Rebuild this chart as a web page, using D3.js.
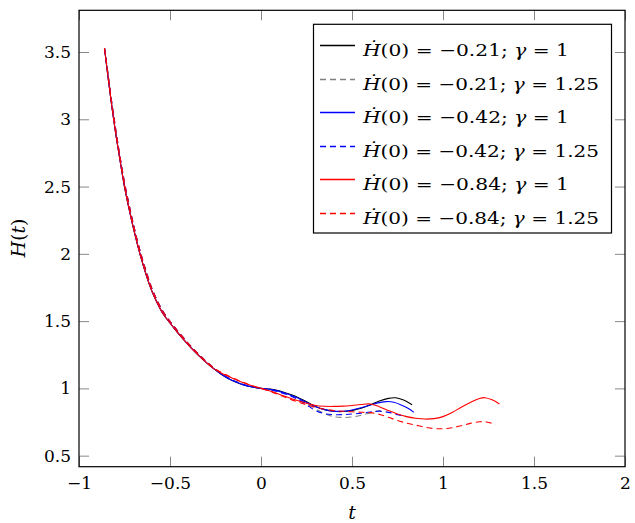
<!DOCTYPE html>
<html>
<head>
<meta charset="utf-8">
<script src="https://cdn.jsdelivr.net/npm/d3@7"></script>
<style>
  body { margin: 0; background: #fff; }
  text { font-family: "DejaVu Serif", serif; }
</style>
</head>
<body>
<script>
// shared steep part
let tEarly = [-0.86, -0.84, -0.82, -0.80, -0.78, -0.75, -0.72, -0.69, -0.66, -0.63, -0.60, -0.57, -0.54, -0.50, -0.46, -0.42, -0.38, -0.34, -0.30, -0.26];
let hEarly = [3.53, 3.31, 3.10, 2.91, 2.74, 2.50, 2.305, 2.13, 1.975, 1.84, 1.725, 1.635, 1.558, 1.486, 1.418, 1.355, 1.296, 1.242, 1.192, 1.147];
let hEarlyDash = [3.53, 3.33, 3.125, 2.94, 2.765, 2.53, 2.335, 2.155, 2.0, 1.865, 1.745, 1.652, 1.575, 1.499, 1.43, 1.366, 1.305, 1.25, 1.199, 1.153];

// tails, one per curve
let tBlack = [-0.22, -0.18, -0.14, -0.10, -0.05, 0, 0.05, 0.10, 0.15, 0.20, 0.25, 0.30, 0.35, 0.40, 0.45, 0.50, 0.55, 0.60, 0.65, 0.70, 0.74, 0.78, 0.83];
let hBlack = [1.107, 1.073, 1.047, 1.027, 1.01, 1.0, 0.995, 0.982, 0.96, 0.935, 0.9, 0.866, 0.842, 0.830, 0.828, 0.835, 0.852, 0.878, 0.906, 0.926, 0.93, 0.915, 0.878];

let tGrayDash = [-0.22, -0.18, -0.14, -0.10, -0.05, 0, 0.05, 0.10, 0.15, 0.20, 0.25, 0.30, 0.35, 0.40, 0.45, 0.50, 0.55, 0.60, 0.65, 0.68];
let hGrayDash = [1.112, 1.078, 1.051, 1.03, 1.012, 1.0, 0.99, 0.975, 0.955, 0.926, 0.888, 0.848, 0.812, 0.79, 0.784, 0.788, 0.80, 0.818, 0.835, 0.842];

let tBlue = [-0.22, -0.18, -0.14, -0.10, -0.05, 0, 0.05, 0.10, 0.15, 0.20, 0.25, 0.30, 0.35, 0.40, 0.45, 0.50, 0.55, 0.60, 0.65, 0.69, 0.73, 0.77, 0.81, 0.84];
let hBlue = [1.107, 1.074, 1.049, 1.028, 1.012, 1.0, 0.993, 0.978, 0.956, 0.93, 0.896, 0.863, 0.842, 0.831, 0.83, 0.84, 0.856, 0.875, 0.894, 0.902, 0.897, 0.877, 0.85, 0.822];

let tBlueDash = [-0.22, -0.18, -0.14, -0.10, -0.05, 0, 0.05, 0.10, 0.15, 0.20, 0.25, 0.30, 0.35, 0.40, 0.45, 0.50, 0.55, 0.60, 0.65, 0.70, 0.75, 0.80];
let hBlueDash = [1.112, 1.079, 1.052, 1.031, 1.013, 1.0, 0.99, 0.972, 0.95, 0.92, 0.878, 0.835, 0.812, 0.805, 0.805, 0.81, 0.815, 0.825, 0.83, 0.822, 0.805, 0.79];

let tRed = [-0.22, -0.18, -0.14, -0.10, -0.05, 0, 0.05, 0.10, 0.15, 0.20, 0.25, 0.30, 0.35, 0.40, 0.45, 0.50, 0.55, 0.60, 0.65, 0.70, 0.75, 0.80, 0.85, 0.90, 0.95, 1.00, 1.05, 1.10, 1.15, 1.20, 1.23, 1.27, 1.31];
let hRed = [1.115, 1.09, 1.066, 1.044, 1.02, 1.0, 0.98, 0.957, 0.932, 0.91, 0.89, 0.873, 0.867, 0.866, 0.868, 0.873, 0.88, 0.884, 0.864, 0.836, 0.81, 0.79, 0.778, 0.772, 0.775, 0.79, 0.82, 0.86, 0.895, 0.925, 0.931, 0.915, 0.884];

let tRedDash = [-0.22, -0.18, -0.14, -0.10, -0.05, 0, 0.05, 0.10, 0.15, 0.20, 0.25, 0.30, 0.35, 0.40, 0.45, 0.50, 0.55, 0.60, 0.65, 0.70, 0.75, 0.80, 0.85, 0.90, 0.95, 1.00, 1.05, 1.10, 1.15, 1.20, 1.24, 1.29];
let hRedDash = [1.12, 1.094, 1.069, 1.046, 1.021, 1.0, 0.978, 0.952, 0.925, 0.9, 0.878, 0.86, 0.845, 0.835, 0.83, 0.826, 0.823, 0.82, 0.807, 0.785, 0.762, 0.742, 0.727, 0.712, 0.702, 0.70, 0.708, 0.722, 0.74, 0.752, 0.75, 0.733];

let h0Labels = ["\u22120.21", "\u22120.21", "\u22120.42", "\u22120.42", "\u22120.84", "\u22120.84"];
let gammaLabels = ["1", "1.25", "1", "1.25", "1", "1.25"];

let xTicks = [-1, -0.5, 0, 0.5, 1, 1.5, 2];
let yTicks = [0.5, 1, 1.5, 2, 2.5, 3, 3.5];

let series = [
  {t: tBlack, h: hBlack, early: hEarly, color: "black", dash: null},
  {t: tGrayDash, h: hGrayDash, early: hEarlyDash, color: "gray", dash: "6,4"},
  {t: tBlue, h: hBlue, early: hEarly, color: "blue", dash: null},
  {t: tBlueDash, h: hBlueDash, early: hEarlyDash, color: "blue", dash: "6,4"},
  {t: tRed, h: hRed, early: hEarly, color: "red", dash: null},
  {t: tRedDash, h: hRedDash, early: hEarlyDash, color: "red", dash: "6,4"}
];

let width = 635, height = 523;
let mLeft = 79, mRight = 625, mTop = 10.3, mBottom = 466.7;

let x = d3.scaleLinear().domain([-1, 2]).range([mLeft, mRight]);
let y = d3.scaleLinear().domain([0.418, 3.81]).range([mBottom, mTop]);

let svg = d3.select("body").append("svg")
    .attr("width", width)
    .attr("height", height);

let line = d3.line()
    .x(function(d) { return x(d[0]); })
    .y(function(d) { return y(d[1]); })
    .curve(d3.curveCatmullRom);

svg.append("g").selectAll("path")
    .data(series)
    .enter()
    .append("path")
    .attr("fill", "none")
    .attr("stroke", function(d) { return d.color; })
    .attr("stroke-width", 1.1)
    .attr("stroke-dasharray", function(d) { return d.dash; })
    .attr("d", function(d) {
        let pts = tEarly.map(function(t, i) { return [t, d.early[i]]; });
        return line(pts.concat(d.t.map(function(t, i) { return [t, d.h[i]]; })));
    });

// axes: inward gray ticks on all four sides
let fmt = d3.format("");
function styleAxis(g) {
    g.select(".domain").remove();
    g.selectAll(".tick line").attr("stroke", "#888");
    g.selectAll("text").attr("fill", "black").attr("font-size", 17)
        .attr("font-family", "DejaVu Serif");
}

svg.append("g")
    .attr("transform", "translate(0," + mBottom + ")")
    .call(d3.axisBottom(x).tickValues(xTicks).tickFormat(fmt).tickSizeInner(-10).tickSizeOuter(0).tickPadding(10))
    .call(styleAxis);
svg.append("g")
    .attr("transform", "translate(0," + mTop + ")")
    .call(d3.axisTop(x).tickValues(xTicks).tickSizeInner(-10).tickSizeOuter(0).tickFormat(""))
    .call(styleAxis);
svg.append("g")
    .attr("transform", "translate(" + mLeft + ",0)")
    .call(d3.axisLeft(y).tickValues(yTicks).tickFormat(fmt).tickSizeInner(-10).tickSizeOuter(0).tickPadding(8))
    .call(styleAxis);
svg.append("g")
    .attr("transform", "translate(" + mRight + ",0)")
    .call(d3.axisRight(y).tickValues(yTicks).tickSizeInner(-10).tickSizeOuter(0).tickFormat(""))
    .call(styleAxis);

svg.append("rect")
    .attr("x", mLeft).attr("y", mTop)
    .attr("width", mRight - mLeft).attr("height", mBottom - mTop)
    .attr("fill", "none").attr("stroke", "black").attr("stroke-width", 1.2);

// axis labels
svg.append("text")
    .attr("x", (mLeft + mRight) / 2).attr("y", 519)
    .attr("text-anchor", "middle").attr("font-size", 19).attr("font-style", "italic")
    .text("t");

let yl = svg.append("text")
    .attr("transform", "translate(25," + 238 + ") rotate(-90)")
    .attr("text-anchor", "middle").attr("font-size", 19);
yl.append("tspan").attr("font-style", "italic").text("H");
yl.append("tspan").text("(");
yl.append("tspan").attr("font-style", "italic").text("t");
yl.append("tspan").text(")");

// legend
let lg = svg.append("g");
lg.append("rect")
    .attr("x", 313.5).attr("y", 24.3).attr("width", 298).attr("height", 208.7)
    .attr("fill", "white").attr("stroke", "black").attr("stroke-width", 1.2);

series.forEach(function(s, i) {
    let base = 56 + i * 33.5;
    let ly = Math.round(base - 11) + 0.5;
    lg.append("line")
        .attr("x1", 320).attr("x2", 355)
        .attr("y1", ly).attr("y2", ly)
        .attr("stroke", s.color).attr("stroke-width", 1.3)
        .attr("stroke-dasharray", s.dash);
    let tx = lg.append("text")
        .attr("x", 363).attr("y", base)
        .attr("font-size", 17)
        .attr("textLength", gammaLabels[i] === "1" ? 206 : 236)
        .attr("lengthAdjust", "spacingAndGlyphs");
    tx.append("tspan").attr("font-style", "italic").text("\u1E22");
    tx.append("tspan").text("(0) = " + h0Labels[i] + "; ");
    tx.append("tspan").attr("font-style", "italic").text("\u03B3");
    tx.append("tspan").text(" = " + gammaLabels[i]);
});
</script>
</body>
</html>
